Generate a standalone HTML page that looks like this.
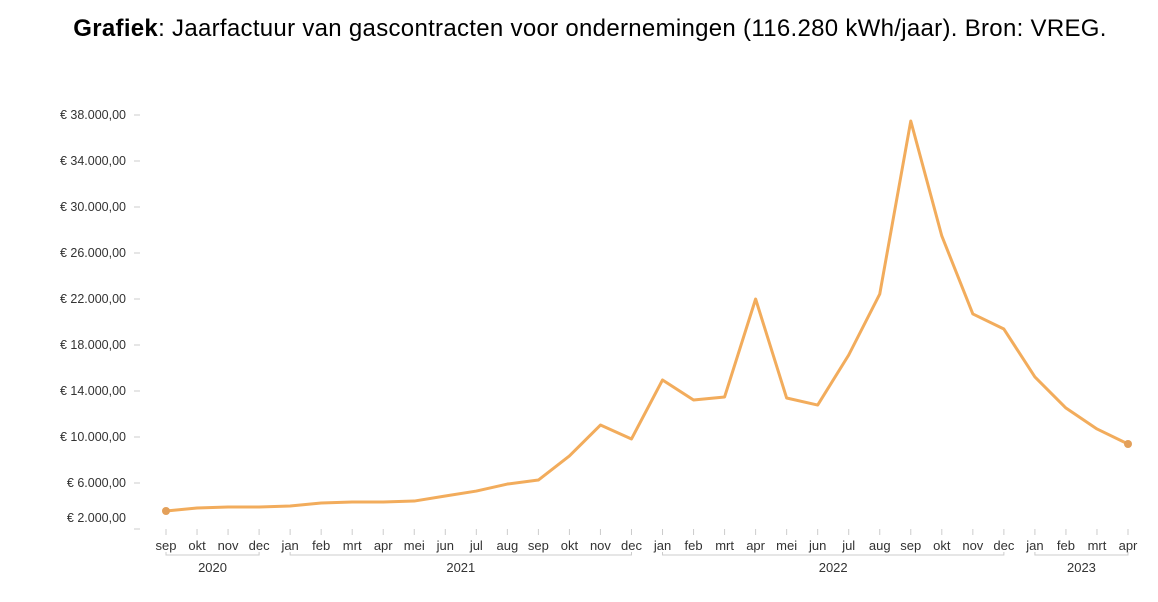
<!DOCTYPE html>
<html><head><meta charset="utf-8"><style>
body{margin:0;background:#fff;width:1158px;height:602px;overflow:hidden;font-family:"Liberation Sans",sans-serif}
</style></head><body>
<div style="position:absolute;top:15px;left:0;width:1180px;text-align:center;font-size:24px;letter-spacing:0.3px;color:#000;white-space:nowrap"><b>Grafiek</b>: Jaarfactuur van gascontracten voor ondernemingen (116.280 kWh/jaar). Bron: VREG.</div>
<svg id="c" width="1158" height="602" style="position:absolute;left:0;top:0"></svg>
<script>
const months=["sep","okt","nov","dec","jan","feb","mrt","apr","mei","jun","jul","aug","sep","okt","nov","dec","jan","feb","mrt","apr","mei","jun","jul","aug","sep","okt","nov","dec","jan","feb","mrt","apr"];
const values=[3565,3826,3913,3913,4000,4260,4350,4350,4430,4870,5300,5910,6260,8350,11040,9830,14960,13220,13480,22000,13390,12780,17130,22430,37480,27480,20700,19390,15220,12520,10700,9390];
const yTicks=[2000,6000,10000,14000,18000,22000,26000,30000,34000,38000];
const yTickLabels=["€ 2.000,00","€ 6.000,00","€ 10.000,00","€ 14.000,00","€ 18.000,00","€ 22.000,00","€ 26.000,00","€ 30.000,00","€ 34.000,00","€ 38.000,00"];
const years=[{label:"2020",from:0,to:3},{label:"2021",from:4,to:15},{label:"2022",from:16,to:27},{label:"2023",from:28,to:31}];
const svg=document.getElementById('c');const NS="http://www.w3.org/2000/svg";
const x=i=>166+i*(1128-166)/31;
const y=v=>529-(v-2000)*0.0115;
function mk(t,a,p){const e=document.createElementNS(NS,t);for(const k in a)e.setAttribute(k,a[k]);(p||svg).appendChild(e);return e;}
yTicks.forEach((v,i)=>{
 const l=mk('line',{x1:134,x2:140,y1:y(v),y2:y(v),stroke:'#ccc'});
 
 
 const t=mk('text',{x:126,y:(i===0?y(v)-11:y(v))+4,'text-anchor':'end','font-size':12.5,fill:'#333'});
 t.textContent=yTickLabels[i];
 
 
});
months.forEach((m,i)=>{
 const l=mk('line',{x1:x(i),x2:x(i),y1:529,y2:535,stroke:'#ccc'});
 
 
 const t=mk('text',{x:x(i),y:550,'text-anchor':'middle','font-size':13,fill:'#333'});
 t.textContent=m;
 
 
});
years.forEach(g=>{
 const p=mk('path',{d:`M${x(g.from)},552V555H${x(g.to)}V552`,stroke:'#ccc',fill:'none'});
 
 
 const t=mk('text',{x:(x(g.from)+x(g.to))/2,y:572,'text-anchor':'middle','font-size':13,fill:'#333'});
 t.textContent=g.label;
 
 
});
const line=mk('polyline',{points:values.map((v,i)=>x(i)+','+y(v)).join(' '),fill:'none',stroke:'#f2ac5c','stroke-width':3,'stroke-linejoin':'round'});


[0,values.length-1].forEach(i=>{
 const c=mk('circle',{cx:x(i),cy:y(values[i]),r:4,fill:'#e3a05a'});
 
 
});
</script>
</body></html>
